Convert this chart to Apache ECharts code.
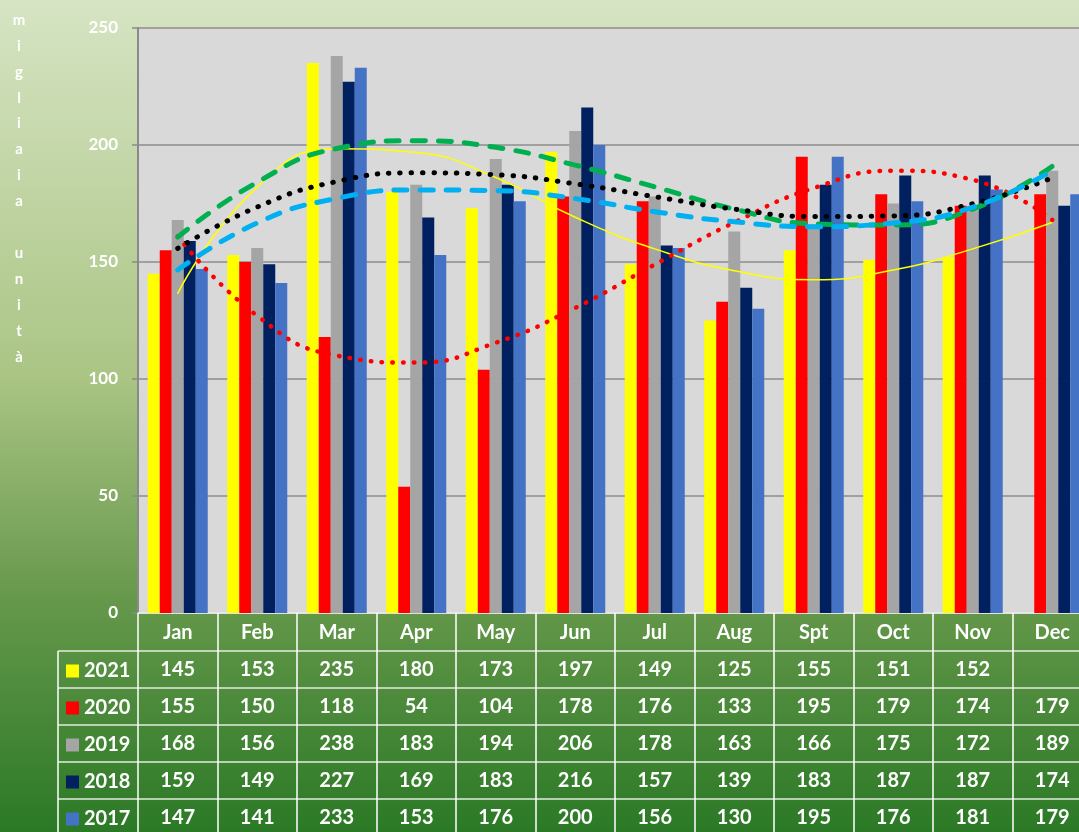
<!DOCTYPE html>
<html>
<head>
<meta charset="utf-8">
<script src="https://cdn.jsdelivr.net/npm/echarts@6/dist/echarts.min.js"></script>
<style>
html,body{margin:0;padding:0;overflow:hidden;width:1079px;height:832px;}
#chart{width:1100px;height:832px;}
</style>
</head>
<body>
<div id="chart"></div>
<script>
// ---- data ----
var months = ['Jan','Feb','Mar','Apr','May','Jun','Jul','Aug','Spt','Oct','Nov','Dec'];
var years = ['2021','2020','2019','2018','2017'];
var v2021 = [145,153,235,180,173,197,149,125,155,151,152,null];
var v2020 = [155,150,118,54,104,178,176,133,195,179,174,179];
var v2019 = [168,156,238,183,194,206,178,163,166,175,172,189];
var v2018 = [159,149,227,169,183,216,157,139,183,187,187,174];
var v2017 = [147,141,233,153,176,200,156,130,195,176,181,179];
// trend lines (at each month)
var trend2021 = [136.6,182.0,198.4,196.8,186.1,169.1,155.6,146.3,142.4,146.6,155.6,166.9];
var trend2020 = [161.0,127.0,110.0,107.0,115.5,130.4,148.9,166.9,181.6,189.0,185.1,168.0];
var trend2019 = [160.6,184.1,198.5,201.8,199.0,191.4,182.1,172.6,166.3,165.8,172.6,190.9];
var trend2018 = [155.8,173.5,184.4,188.1,187.3,183.4,177.9,172.6,169.4,169.7,174.9,186.0];
var trend2017 = [146.6,166.7,177.2,180.8,180.5,177.1,171.5,167.2,165.1,166.7,173.4,189.0];
var yTicks = {min:0, max:250, interval:50};
var axisTitle = 'migliaia unità';

var barColors = ['#FFFF00','#FF0000','#A5A5A5','#002060','#4472C4'];
var barData = [v2021,v2020,v2019,v2018,v2017];
var FONT = 'Lato, "Open Sans", sans-serif';

var chart = echarts.init(document.getElementById('chart'));

var rowOffsets = [38,75,112,149,186];
var xAxes = [{
  type:'category', data:months, position:'bottom', gridIndex:0,
  axisLine:{show:true, lineStyle:{color:'#ffffff', width:1.5}},
  axisTick:{show:true, interval:0, alignWithLabel:false, length:230, lineStyle:{color:'#ffffff', width:1.5}},
  axisLabel:{show:true, interval:0, margin:10, color:'#ffffff', fontWeight:'bold', fontSize:20, fontFamily:FONT}
}];
barData.forEach(function(arr, k){
  xAxes.push({
    type:'category', data:months, position:'bottom', offset:rowOffsets[k], gridIndex:0,
    axisLine:{show:true, lineStyle:{color:'#e4ebe0', width:1.5}},
    axisTick:{show:false},
    axisLabel:{show:true, interval:0, margin:9, color:'#ffffff', fontWeight:'bold', fontSize:20, fontFamily:FONT,
      formatter:function(val, idx){ var v = arr[idx]; return (v===null||v===undefined)?'':String(v); }}
  });
});

var series = [];
years.forEach(function(y, k){
  series.push({
    name:y, type:'bar', data:barData[k], barWidth:12, barGap:'0%',
    itemStyle:{color:barColors[k]}, z:2
  });
});
function trend(data, color, width, type, z){
  return {type:'line', data:data, smooth:0.5, showSymbol:false, silent:true, z:z,
    lineStyle:{color:color, width:width, type:type, cap:'round'}};
}
series.push(trend(trend2021,'#FFFF00',1.5,'solid',3));
series.push(trend(trend2020,'#FF0000',4.5,[0.5,10.3],4));
series.push(trend(trend2019,'#00B050',5,[13,13],5));
series.push(trend(trend2018,'#000000',5,[0.5,10.8],6));
series.push(trend(trend2017,'#00B0F0',5,[13,13],7));

var gLines = [];
var hy = [651,688,725,762,799];
hy.forEach(function(y){
  gLines.push({type:'line', shape:{x1:58,y1:y,x2:138,y2:y}, style:{stroke:'#e4ebe0', lineWidth:1.5}});
});
gLines.push({type:'line', shape:{x1:58,y1:651,x2:58,y2:832}, style:{stroke:'#ffffff', lineWidth:1.5}});
// vertical axis title, one letter per line
axisTitle.split('').forEach(function(c, i){
  if (c === ' ') return;
  gLines.push({type:'text', x:19, y:20 + i*25.9,
    style:{text:c, fill:'#ffffff', font:'bold 15px ' + FONT, align:'center', verticalAlign:'middle'}});
});

chart.setOption({
  animation:false,
  backgroundColor:{type:'linear', x:0, y:0, x2:0, y2:1, colorStops:[
    {offset:0, color:'#d6e4c3'},
    {offset:0.45, color:'#abc585'},
    {offset:0.72, color:'#66984b'},
    {offset:1, color:'#2b7926'}
  ]},
  grid:{left:138, top:28, width:954, height:585, show:true, backgroundColor:'#d9d9d9', borderWidth:0, containLabel:false},
  legend:{show:true, data:years, orient:'vertical', left:66, top:659, padding:0, height:200, itemWidth:13, itemHeight:13, itemGap:13, icon:'rect',
    selectedMode:false, textStyle:{color:'#ffffff', fontWeight:'bold', fontSize:20, fontFamily:FONT, lineHeight:24}},
  xAxis:xAxes,
  yAxis:{type:'value', min:yTicks.min, max:yTicks.max, interval:yTicks.interval,
    axisLine:{show:true, lineStyle:{color:'#8a8a8a', width:2}},
    axisTick:{show:true, length:6, lineStyle:{color:'#8a8a8a', width:1.5}},
    axisLabel:{margin:20, color:'#ffffff', fontWeight:'bold', fontSize:17, fontFamily:FONT},
    splitLine:{show:true, lineStyle:{color:'#8c8c8c', width:1.5}}
  },
  graphic:gLines,
  series:series
});
</script>
</body>
</html>
